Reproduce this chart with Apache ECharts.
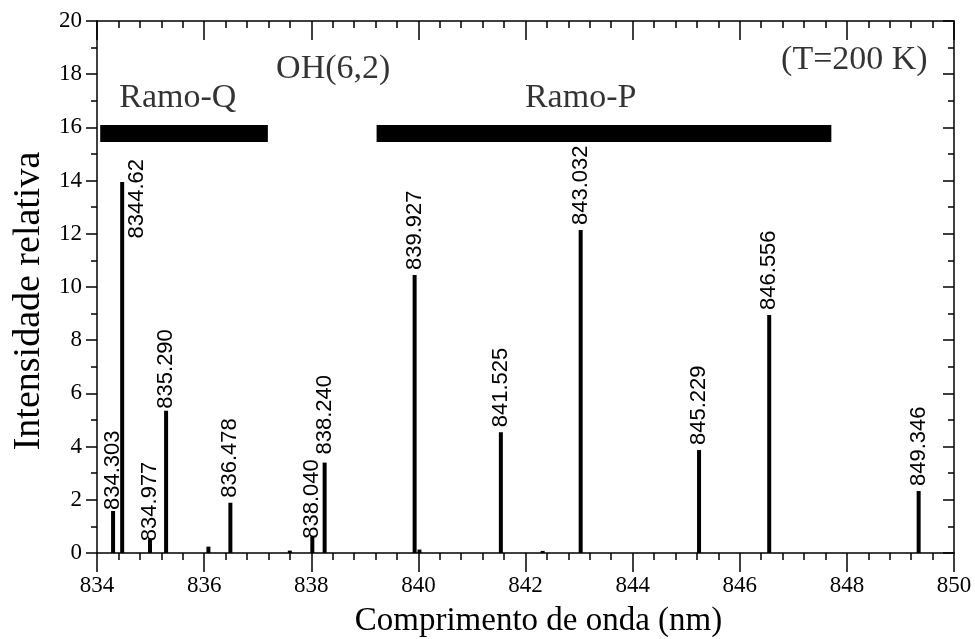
<!DOCTYPE html>
<html>
<head>
<meta charset="utf-8">
<script src="https://cdn.jsdelivr.net/npm/echarts@6/dist/echarts.min.js"></script>
<style>html,body{margin:0;padding:0;background:#fff}#c{width:975px;height:639px}</style>
</head>
<body>
<div id="c"></div>
<script>
// ---- data ----
const lineWavelengths = [834.30, 834.47, 834.99, 835.29, 836.08, 836.49, 837.60, 838.02, 838.25, 839.93, 840.02, 841.54, 842.32, 843.03, 845.24, 846.55, 849.34];
const lineIntensities = [1.58, 13.95, 0.52, 5.35, 0.24, 1.89, 0.09, 0.61, 3.40, 10.45, 0.13, 4.54, 0.08, 12.14, 3.87, 8.95, 2.33];
const lineLabels = ['834.303', '8344.62', '834.977', '835.290', '', '836.478', '', '838.040', '838.240', '839.927', '', '841.525', '', '843.032', '845.229', '846.556', '849.346'];
const ramoQRange = [834.06, 837.19];
const ramoPRange = [839.22, 847.71];
const ramoLevel = 15.77;
const xTicks = [834, 836, 838, 840, 842, 844, 846, 848, 850];
const yTicks = [0, 2, 4, 6, 8, 10, 12, 14, 16, 18, 20];
const annotationTexts = ['Ramo-Q', 'OH(6,2)', 'Ramo-P', '(T=200 K)'];
const annotationAnchors = [[835.51, 17.1], [838.41, 18.21], [843.03, 17.1], [848.14, 18.52]];

// ---- label style tweaks (screen offsets) ----
const labelOffsets = {'834.303': [-4, 0], '834.977': [-7, 0], '835.290': [-3, 0], '838.040': [-7, 0], '838.240': [3, 0]};

const chart = echarts.init(document.getElementById('c'), null, {renderer: 'canvas'});
const serif = 'Liberation Serif';
const sans = 'Liberation Sans';

const barData = lineWavelengths.map((x, i) => {
  const lbl = lineLabels[i];
  const item = {value: [x, lineIntensities[i]], name: lbl};
  if (!lbl) {
    item.label = {show: false};
  } else if (lbl === '8344.62') {
    item.label = {show: true, position: [17, -23], align: 'right', verticalAlign: 'middle', rotate: 90};
  } else if (labelOffsets[lbl]) {
    item.label = {show: true, offset: labelOffsets[lbl]};
  }
  return item;
});

const axisLineStyle = {color: '#000', width: 1.5};

const option = {
  animation: false,
  backgroundColor: '#fff',
  textStyle: {fontFamily: serif, color: '#000'},
  grid: {left: 97, right: 21, top: 21, bottom: 86, containLabel: false, outerBoundsMode: 'none'},
  xAxis: [{
    type: 'value', min: xTicks[0], max: xTicks[xTicks.length - 1], interval: 2,
    position: 'bottom',
    axisLine: {show: true, onZero: false, lineStyle: axisLineStyle},
    axisTick: {show: true, inside: false, length: 19, lineStyle: {color: '#000', width: 1.5}},
    minorTick: {show: true, splitNumber: 5, length: 7, lineStyle: {color: '#000', width: 1.5}},
    splitLine: {show: false},
    axisLabel: {fontFamily: serif, fontSize: 23, color: '#000', margin: 21},
    name: 'Comprimento de onda (nm)', nameLocation: 'middle', nameGap: 52,
    nameTextStyle: {fontFamily: serif, fontSize: 33, color: '#000', padding: [0, 0, 0, 26]}
  }, {
    type: 'value', min: xTicks[0], max: xTicks[xTicks.length - 1], interval: 2,
    position: 'top',
    axisLine: {show: true, onZero: false, lineStyle: axisLineStyle},
    axisTick: {show: true, inside: true, length: 19, lineStyle: {color: '#000', width: 1.5}},
    minorTick: {show: true, splitNumber: 5, length: 7, lineStyle: {color: '#000', width: 1.5}},
    splitLine: {show: false},
    axisLabel: {show: false}
  }],
  yAxis: [{
    type: 'value', min: yTicks[0], max: yTicks[yTicks.length - 1], interval: 2,
    position: 'left',
    axisLine: {show: true, onZero: false, lineStyle: axisLineStyle},
    axisTick: {show: true, inside: false, length: 11, lineStyle: {color: '#000', width: 1.5}},
    minorTick: {show: true, splitNumber: 2, length: 6, lineStyle: {color: '#000', width: 1.5}},
    splitLine: {show: false},
    axisLabel: {fontFamily: serif, fontSize: 23, color: '#000', margin: 15},
    name: 'Intensidade relativa', nameLocation: 'middle', nameGap: 47, nameRotate: 90,
    nameTextStyle: {fontFamily: serif, fontSize: 38, color: '#000', padding: [0, 28, 0, 0]}
  }, {
    type: 'value', min: yTicks[0], max: yTicks[yTicks.length - 1], interval: 2,
    position: 'right',
    axisLine: {show: true, onZero: false, lineStyle: axisLineStyle},
    axisTick: {show: true, inside: true, length: 11, lineStyle: {color: '#000', width: 1.5}},
    minorTick: {show: true, splitNumber: 2, length: 6, lineStyle: {color: '#000', width: 1.5}},
    splitLine: {show: false},
    axisLabel: {show: false}
  }],
  series: [{
    type: 'bar',
    xAxisIndex: 0, yAxisIndex: 0,
    barWidth: 4,
    itemStyle: {color: '#000'},
    label: {
      show: true, position: 'top', distance: 5, rotate: 90,
      align: 'left', verticalAlign: 'middle',
      formatter: '{b}', fontFamily: sans, fontSize: 22, color: '#000'
    },
    data: barData
  }, {
    type: 'line', xAxisIndex: 0, yAxisIndex: 0, symbol: 'none',
    lineStyle: {color: '#000', width: 17, cap: 'butt'},
    data: [[ramoQRange[0], ramoLevel], [ramoQRange[1], ramoLevel]]
  }, {
    type: 'line', xAxisIndex: 0, yAxisIndex: 0, symbol: 'none',
    lineStyle: {color: '#000', width: 17, cap: 'butt'},
    data: [[ramoPRange[0], ramoLevel], [ramoPRange[1], ramoLevel]]
  }, {
    type: 'scatter', xAxisIndex: 0, yAxisIndex: 0,
    symbolSize: 1, itemStyle: {color: 'rgba(0,0,0,0)'},
    label: {show: true, position: 'inside', formatter: '{b}', fontFamily: serif, fontSize: 34, color: '#000'},
    data: annotationTexts.map((t, i) => ({name: t, value: annotationAnchors[i]}))
  }]
};
chart.setOption(option);
</script>
</body>
</html>
